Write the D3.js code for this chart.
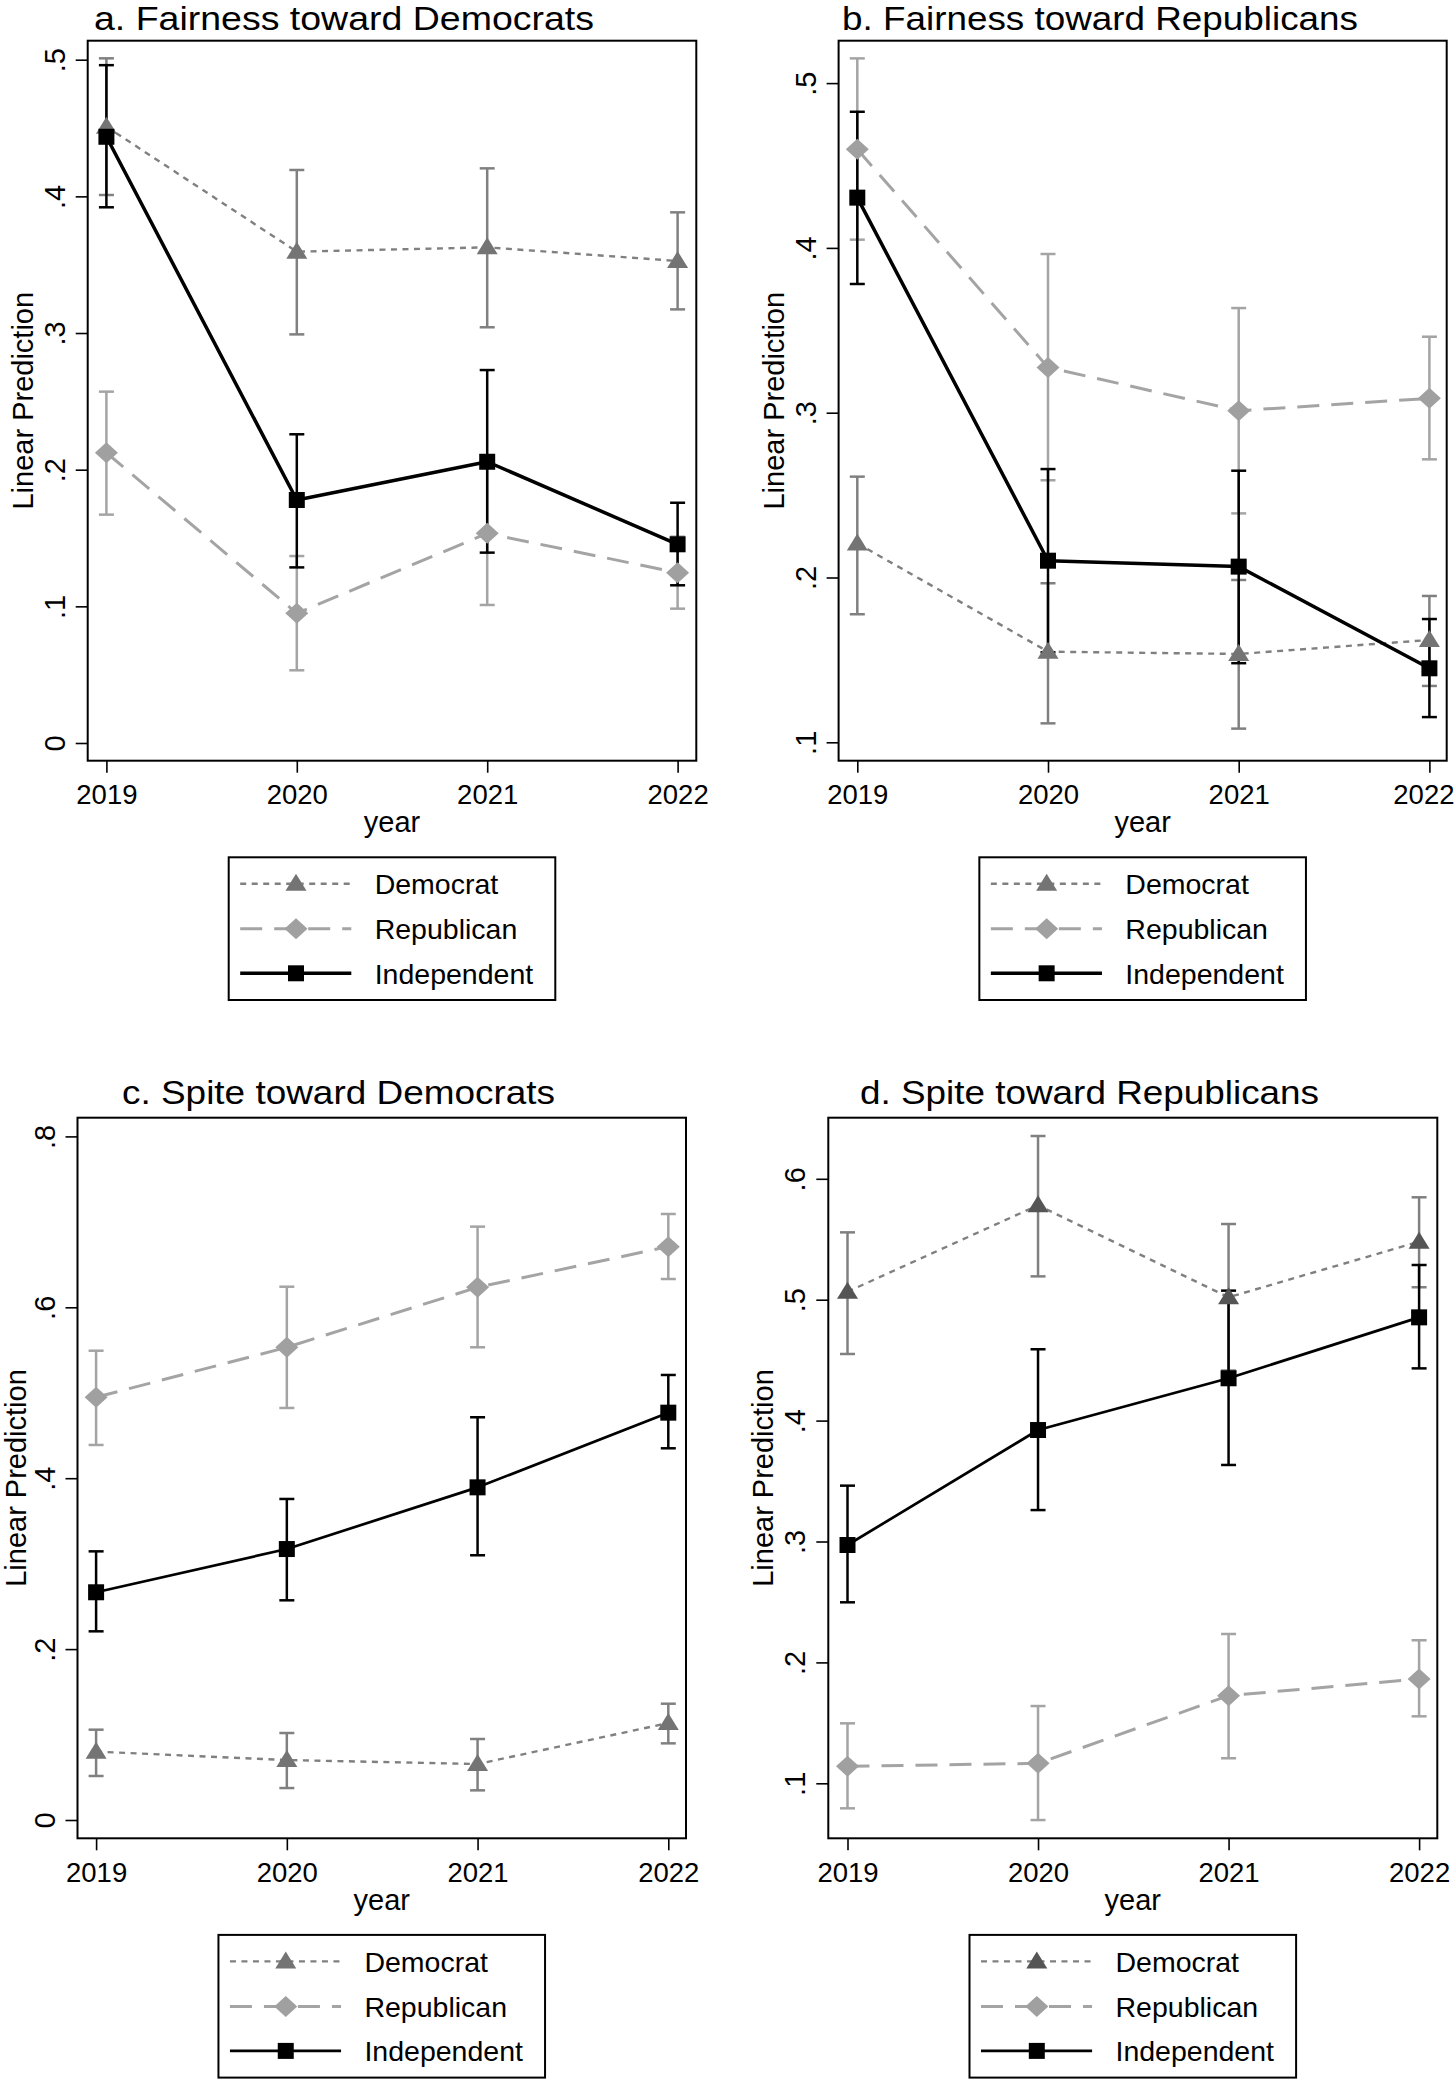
<!DOCTYPE html>
<html><head><meta charset="utf-8">
<script src="https://cdn.jsdelivr.net/npm/d3@7/dist/d3.min.js"></script>
<style>
html,body{margin:0;padding:0;background:#fff;}
svg{display:block;}
text{font-family:"Liberation Sans",Arial,Helvetica,sans-serif;fill:#000;}
</style></head>
<body>
<svg id="chart" width="1456" height="2079"></svg>
<script>
// ---------- DATA ----------
const years = [2019, 2020, 2021, 2022];
const seriesNames = ["Democrat", "Republican", "Independent"];
const titles = ["a. Fairness toward Democrats", "b. Fairness toward Republicans",
                "c. Spite toward Democrats", "d. Spite toward Republicans"];
const xLabel = "year";
const yLabel = "Linear Prediction";

const yTicksA = [0, 0.1, 0.2, 0.3, 0.4, 0.5];
const yTicksB = [0.1, 0.2, 0.3, 0.4, 0.5];
const yTicksC = [0, 0.2, 0.4, 0.6, 0.8];
const yTicksD = [0.1, 0.2, 0.3, 0.4, 0.5, 0.6];

// Panel a: Fairness toward Democrats
const demA = [0.451, 0.3595, 0.3627, 0.3527];
const demA_lo = [0.401, 0.299, 0.3042, 0.3173];
const demA_hi = [0.501, 0.4193, 0.4205, 0.3883];
const repA = [0.2124, 0.0949, 0.1534, 0.1246];
const repA_lo = [0.1671, 0.0532, 0.101, 0.0983];
const repA_hi = [0.2571, 0.1368, 0.2058, 0.151];
const indA = [0.4436, 0.1778, 0.2058, 0.1454];
const indA_lo = [0.392, 0.1285, 0.1393, 0.1154];
const indA_hi = [0.496, 0.2259, 0.2729, 0.1758];

// Panel b: Fairness toward Republicans
const demB = [0.2207, 0.155, 0.1536, 0.1621];
const demB_lo = [0.1777, 0.1115, 0.1083, 0.1342];
const demB_hi = [0.2612, 0.1965, 0.1985, 0.1888];
const repB = [0.4598, 0.3275, 0.3012, 0.3087];
const repB_lo = [0.405, 0.259, 0.2389, 0.2717];
const repB_hi = [0.515, 0.3963, 0.3635, 0.3461];
const indB = [0.4305, 0.2102, 0.2066, 0.1449];
const indB_lo = [0.3781, 0.1546, 0.148, 0.1153];
const indB_hi = [0.4826, 0.2658, 0.2648, 0.1748];

// Panel c: Spite toward Democrats
const demC = [0.080, 0.0702, 0.0655, 0.1135];
const demC_lo = [0.0515, 0.0374, 0.0347, 0.0897];
const demC_hi = [0.1057, 0.1018, 0.0948, 0.1361];
const repC = [0.4947, 0.5532, 0.6234, 0.671];
const repC_lo = [0.4389, 0.4822, 0.5532, 0.6331];
const repC_hi = [0.5492, 0.6241, 0.6944, 0.7092];
const indC = [0.2665, 0.3171, 0.3893, 0.4767];
const indC_lo = [0.2208, 0.2571, 0.3098, 0.435];
const indC_hi = [0.3144, 0.3757, 0.4713, 0.5208];

// Panel d: Spite toward Republicans
const demD = [0.5066, 0.5781, 0.502, 0.548];
const demD_lo = [0.4551, 0.5193, 0.4414, 0.5103];
const demD_hi = [0.5557, 0.6354, 0.5626, 0.5847];
const repD = [0.1141, 0.1165, 0.1725, 0.1863];
const repD_lo = [0.0793, 0.0696, 0.1207, 0.1554];
const repD_hi = [0.1496, 0.1639, 0.2235, 0.2183];
const indD = [0.2971, 0.3922, 0.435, 0.4854];
const indD_lo = [0.2497, 0.326, 0.3633, 0.4432];
const indD_hi = [0.3462, 0.459, 0.5075, 0.5287];

// ---------- LAYOUT (pixels) ----------
const W = 1456;
const panels = [
  {title: titles[0], ticks: yTicksA, box: [87.7, 40.7, 696.3, 760.7], xr: [106.4, 677.6],
   yd: [0, 0.5], yr: [743, 59.7], titleX: 344, titleY: 30, titleLen: 500, indW: 3.5, triFill: "#747474", ylabOff: 55,
   series: [[demA, demA_lo, demA_hi], [repA, repA_lo, repA_hi], [indA, indA_lo, indA_hi]]},
  {title: titles[1], ticks: yTicksB, box: [838.6, 40.7, 1446.7, 760.7], xr: [857.3, 1429.4],
   yd: [0.1, 0.5], yr: [742.3, 83.1], titleX: 1100, titleY: 30, titleLen: 516, indW: 3.5, triFill: "#747474", ylabOff: 55,
   series: [[demB, demB_lo, demB_hi], [repB, repB_lo, repB_hi], [indB, indB_lo, indB_hi]]},
  {title: titles[2], ticks: yTicksC, box: [77.5, 1117.7, 686, 1838.3], xr: [96.1, 668.3],
   yd: [0, 0.8], yr: [1820, 1136.4], titleX: 338.5, titleY: 1104, titleLen: 433, indW: 2.7, triFill: "#747474", ylabOff: 51.5,
   series: [[demC, demC_lo, demC_hi], [repC, repC_lo, repC_hi], [indC, indC_lo, indC_hi]]},
  {title: titles[3], ticks: yTicksD, box: [828.3, 1117.7, 1437.3, 1838.3], xr: [847.5, 1419.1],
   yd: [0.1, 0.6], yr: [1783.3, 1178.8], titleX: 1089.5, titleY: 1104, titleLen: 459, indW: 2.7, triFill: "#555555", ylabOff: 55,
   series: [[demD, demD_lo, demD_hi], [repD, repD_lo, repD_hi], [indD, indD_lo, indD_hi]]}
];

const styles = [
  {stroke: "#808080", dash: "6,5.5", width: 2.4, bar: "#808080", shape: "tri", fill: null},
  {stroke: "#a4a4a4", dash: "22,12", width: 3, bar: "#a4a4a4", shape: "dia", fill: "#a0a0a0"},
  {stroke: "#000000", dash: null, width: 3.4, bar: "#000000", shape: "sq", fill: "#000000"}
];

function markerPath(shape) {
  const p = d3.path();
  if (shape === "tri") { p.moveTo(0, -10); p.lineTo(10.5, 7); p.lineTo(-10.5, 7); p.closePath(); }
  else if (shape === "dia") { p.moveTo(0, -10.5); p.lineTo(11.5, 0); p.lineTo(0, 10.5); p.lineTo(-11.5, 0); p.closePath(); }
  else { p.rect(-8, -8, 16, 16); }
  return p.toString();
}
const fmt = v => v === 0 ? "0" : d3.format(".1f")(v).replace(/^0/, "");

const svg = d3.select("#chart");

panels.forEach(P => {
  const [L, T, R, B] = P.box;
  const g = svg.append("g");
  const x = d3.scaleLinear().domain([years[0], years[years.length - 1]]).range(P.xr);
  const y = d3.scaleLinear().domain(P.yd).range(P.yr);

  // title
  g.append("text").attr("x", P.titleX).attr("y", P.titleY).attr("text-anchor", "middle")
    .attr("font-size", 33).attr("textLength", P.titleLen).attr("lengthAdjust", "spacingAndGlyphs")
    .text(P.title);

  // frame
  g.append("rect").attr("x", L).attr("y", T).attr("width", R - L).attr("height", B - T)
    .attr("fill", "none").attr("stroke", "#000").attr("stroke-width", 2);

  // y axis
  const yAxis = d3.axisLeft(y).tickValues(P.ticks).tickSize(12).tickFormat(fmt);
  const ya = g.append("g").attr("transform", `translate(${L},0)`).call(yAxis);
  ya.select(".domain").remove();
  ya.selectAll(".tick line").attr("stroke", "#000").attr("stroke-width", 1.6);
  ya.selectAll(".tick text").attr("font-size", 29).attr("fill", "#000")
    .attr("x", null).attr("dy", null).attr("text-anchor", "middle")
    .attr("transform", "translate(-23,0) rotate(-90)");

  // x axis
  const xAxis = d3.axisBottom(x).tickValues(years).tickSize(12).tickFormat(d3.format("d"));
  const xa = g.append("g").attr("transform", `translate(0,${B})`).call(xAxis);
  xa.select(".domain").remove();
  xa.selectAll(".tick line").attr("stroke", "#000").attr("stroke-width", 1.6);
  xa.selectAll(".tick text").attr("font-size", 27.5).attr("fill", "#000")
    .attr("y", 43.5).attr("dy", null)
    .each(function(d) {
      // keep labels inside the page edge
      const bb = this.getBBox();
      const right = x(d) + bb.x + bb.width;
      if (right > W - 2) d3.select(this).attr("dx", (W - 2) - right);
    });

  // axis titles
  g.append("text").attr("x", (L + R) / 2).attr("y", B + 71.5).attr("text-anchor", "middle")
    .attr("font-size", 29).text(xLabel);
  g.append("text").attr("text-anchor", "middle").attr("font-size", 29)
    .attr("transform", `translate(${L - P.ylabOff},${(T + B) / 2}) rotate(-90)`).text(yLabel);

  // error bars
  P.series.forEach((s, si) => {
    const st = styles[si];
    const [est, lo, hi] = s;
    const eb = g.append("g").attr("stroke", st.bar).attr("stroke-width", 2.5).attr("fill", "none");
    years.forEach((yr, i) => {
      const cx = x(yr);
      eb.append("line").attr("x1", cx).attr("x2", cx).attr("y1", y(lo[i])).attr("y2", y(hi[i]));
      eb.append("line").attr("x1", cx - 7.5).attr("x2", cx + 7.5).attr("y1", y(lo[i])).attr("y2", y(lo[i]));
      eb.append("line").attr("x1", cx - 7.5).attr("x2", cx + 7.5).attr("y1", y(hi[i])).attr("y2", y(hi[i]));
    });
  });

  // lines and markers
  P.series.forEach((s, si) => {
    const st = styles[si];
    const est = s[0];
    const line = d3.line().x((d, i) => x(years[i])).y(d => y(d));
    g.append("path").datum(est).attr("d", line).attr("fill", "none")
      .attr("stroke", st.stroke).attr("stroke-width", si === 2 ? P.indW : st.width)
      .attr("stroke-dasharray", st.dash).attr("stroke-linejoin", "round");
    g.selectAll(null).data(est).enter().append("path")
      .attr("d", markerPath(st.shape))
      .attr("transform", (d, i) => `translate(${x(years[i])},${y(d)})`)
      .attr("fill", st.shape === "tri" ? P.triFill : st.fill);
  });

  // legend
  const lw = 326.6, lh = 142.7;
  const lx = (L + R) / 2 - lw / 2, ly = B + 96.6;
  const lg = g.append("g");
  lg.append("rect").attr("x", lx).attr("y", ly).attr("width", lw).attr("height", lh)
    .attr("fill", "#fff").attr("stroke", "#000").attr("stroke-width", 2);
  const rowY = [26.5, 71.5, 116];
  seriesNames.forEach((name, si) => {
    const st = styles[si];
    const ry = ly + rowY[si];
    lg.append("line").attr("x1", lx + 11.5).attr("x2", lx + 122.6).attr("y1", ry).attr("y2", ry)
      .attr("stroke", st.stroke).attr("stroke-width", si === 2 ? P.indW : st.width)
      .attr("stroke-dasharray", st.dash);
    lg.append("path").attr("d", markerPath(st.shape))
      .attr("transform", `translate(${lx + 67.3},${ry})`)
      .attr("fill", st.shape === "tri" ? P.triFill : st.fill);
    lg.append("text").attr("x", lx + 146).attr("y", ry + 10.4).attr("font-size", 28.5).text(name);
  });
});
</script>
</body></html>
